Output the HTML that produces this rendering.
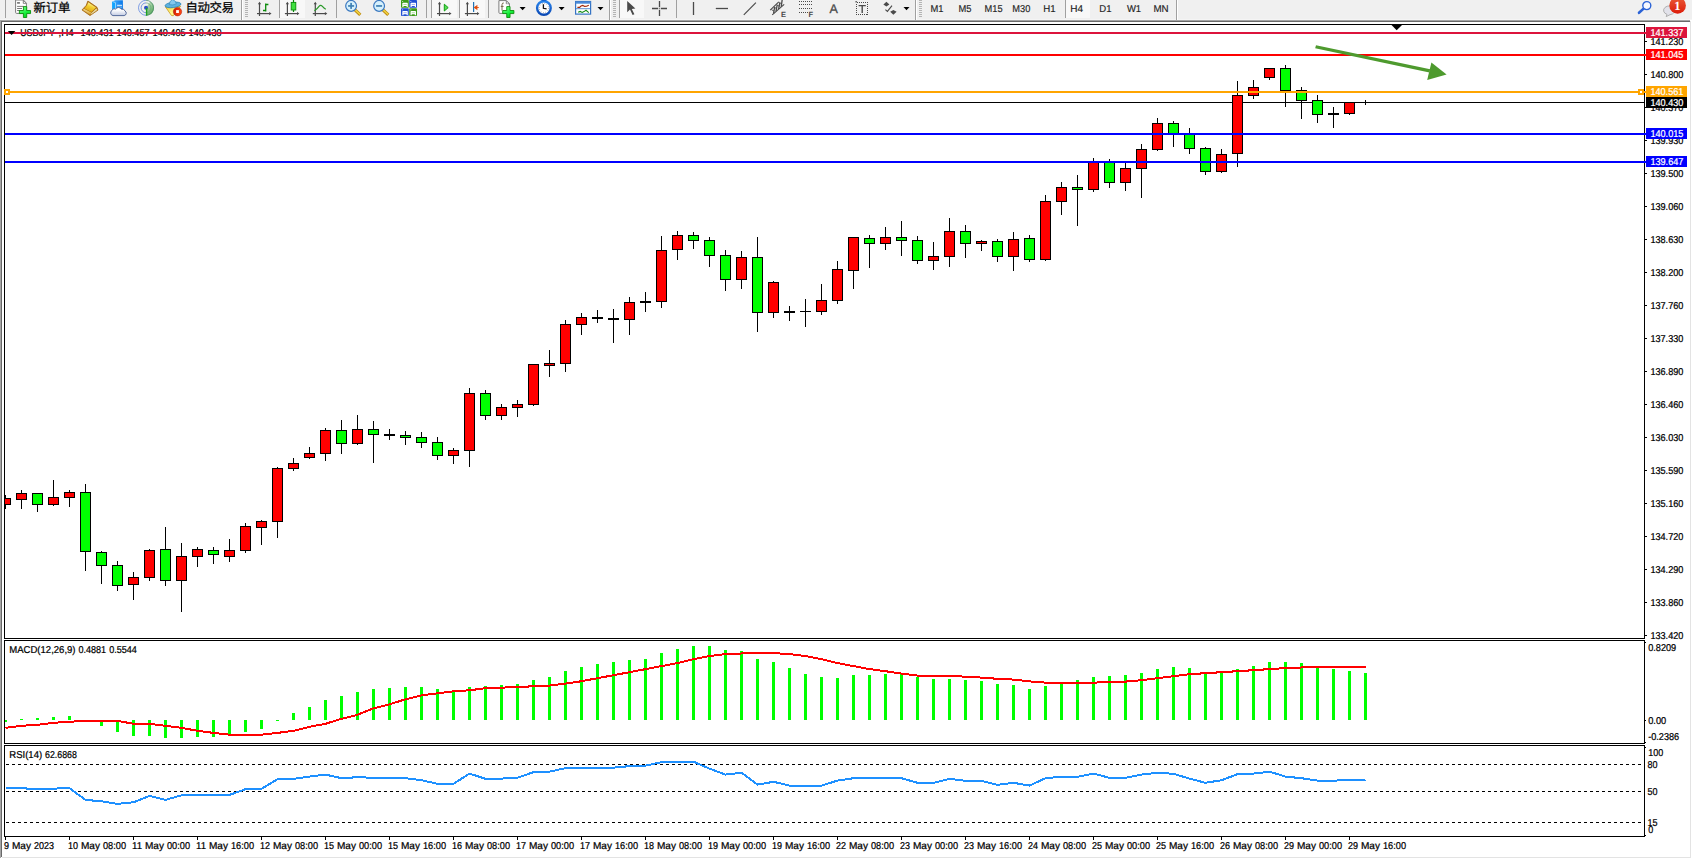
<!DOCTYPE html>
<html lang="zh"><head><meta charset="utf-8"><title>USDJPY,H4</title>
<style>html,body{margin:0;padding:0;background:#fff;}body{width:1692px;height:859px;overflow:hidden;position:relative;}text{white-space:pre;}</style></head>
<body>
<svg width="1692" height="859" viewBox="0 0 1692 859" font-family='"Liberation Sans", "Noto Sans CJK SC", sans-serif' shape-rendering="crispEdges" text-rendering="geometricPrecision" style="position:absolute;left:0;top:0">
<rect x="0" y="0" width="1692" height="859" fill="#fff"/>
<rect x="0" y="0" width="1692" height="19" fill="#f0f0f0"/>
<rect x="0" y="19" width="1692" height="1" fill="#f5f5f5"/>
<rect x="0" y="20" width="1690" height="1" fill="#a5a5a5"/>
<rect x="0" y="21" width="1690" height="1" fill="#696969"/>
<rect x="0" y="20" width="1" height="838" fill="#a5a5a5"/>
<rect x="1" y="21" width="1" height="836" fill="#696969"/>
<rect x="1690" y="21" width="1" height="837" fill="#e3e3e3"/>
<rect x="2" y="857" width="1689" height="1" fill="#e3e3e3"/>
<g id="toolbar" shape-rendering="geometricPrecision"><rect x="5" y="0" width="1" height="18" fill="#a0a0a0" shape-rendering="crispEdges"/><path d="M15.6,0 H23.4 L26.4,3.2 V13.4 H16.6 Q15.6,13.4 15.6,12.4 Z" fill="#fff" stroke="#7c7c7c" stroke-width="1"/><path d="M23.2,0.2 V3.4 H26.4 Z" fill="#9a9a9a" stroke="#7c7c7c" stroke-width="0.7"/><circle cx="24.5" cy="2.5" r="0.6" fill="#fff"/><rect x="17.1" y="2.1" width="2.8" height="1.6" fill="#6e6e6e"/><path d="M17.1,6.4 H24 M17.1,8.5 H22 M17.1,10.5 H20" stroke="#7a7a7a" stroke-width="1"/><path d="M23.41,6.6000000000000005 h3.3 v3.9 h3.85 v3.07 h-3.85 v3.93 h-3.3 v-3.93 h-4.05 v-3.07 h4.05 z" fill="url(#plusg)" stroke="#058a05" stroke-width="0.85" stroke-linejoin="round"/><text x="33.4" y="11.5" font-size="12.4" fill="#000" stroke="#000" stroke-width="0.25" textLength="37" lengthAdjust="spacing">新订单</text><defs><linearGradient id="gold" x1="0.75" y1="0.1" x2="0.35" y2="0.95"><stop offset="0" stop-color="#fffbb0"/><stop offset="0.45" stop-color="#f2d030"/><stop offset="1" stop-color="#e0a616"/></linearGradient><linearGradient id="cream" x1="0.6" y1="0" x2="0.4" y2="1"><stop offset="0" stop-color="#f8e6a6"/><stop offset="1" stop-color="#d29a1e"/></linearGradient><linearGradient id="sky" x1="0" y1="0" x2="1" y2="0"><stop offset="0" stop-color="#46b0ff"/><stop offset="1" stop-color="#0a78e8"/></linearGradient><linearGradient id="face" x1="0" y1="0" x2="0.5" y2="1"><stop offset="0" stop-color="#f2cc34"/><stop offset="0.7" stop-color="#fff88e"/></linearGradient><linearGradient id="stop" x1="0" y1="0" x2="1" y2="0.3"><stop offset="0" stop-color="#c81a02"/><stop offset="1" stop-color="#ff4412"/></linearGradient><linearGradient id="clk" x1="0" y1="0" x2="0" y2="1"><stop offset="0" stop-color="#2a86ee"/><stop offset="1" stop-color="#0a48b4"/></linearGradient><linearGradient id="plusg" x1="0.2" y1="0" x2="0.7" y2="1"><stop offset="0" stop-color="#7dff8e"/><stop offset="0.6" stop-color="#14f03a"/><stop offset="1" stop-color="#08c820"/></linearGradient><linearGradient id="cloud" x1="0" y1="0" x2="0" y2="1"><stop offset="0.3" stop-color="#ffffff"/><stop offset="1" stop-color="#c2cbe2"/></linearGradient><linearGradient id="sig" x1="0" y1="0" x2="0.6" y2="1"><stop offset="0" stop-color="#d4e8d4"/><stop offset="1" stop-color="#58aa58"/></linearGradient><linearGradient id="redb" x1="0" y1="0" x2="0" y2="1"><stop offset="0" stop-color="#ea5a36"/><stop offset="1" stop-color="#dc1c0a"/></linearGradient></defs><path d="M87.9,1.0 L97.0,7.3 L98.0,10.1 L90.0,15.6 L82.0,9.9 L86.2,5.4 Z" fill="#a86a10" stroke="#a86a10" stroke-width="0.8" stroke-linejoin="round"/><path d="M91.4,12.9 L96.4,8.3 L97.3,10.0 L90.6,14.7 Z" fill="#e8dca2"/><path d="M82.9,9.9 L83.9,8.7 L91.4,12.5 L90.1,14.7 Z" fill="url(#cream)"/><path d="M88.3,2.2 L96.0,7.6 L91.4,12.0 L84.3,8.4 L86.9,5.6 Z" fill="url(#gold)"/><path d="M112.2,1.4 L115.4,0.2 H122.9 V9.6 H112.2 Z" fill="url(#sky)"/><path d="M112.2,1.4 L115.5,2.6 V9.6 H112.2 Z" fill="#12a4ff"/><path d="M112.4,1.5 L115.5,2.7 V9.4" fill="none" stroke="#d6f0ff" stroke-width="0.6"/><rect x="117.1" y="4.8" width="4.9" height="1" fill="#e8f6ff"/><rect x="117.1" y="6.7" width="4.9" height="0.8" fill="#8fd0ff"/><path d="M113.0,15.6 a2.9,2.9 0 0 1 -0.6,-5.5 a2.2,2.2 0 0 1 3.2,-1.0 a3.4,3.4 0 0 1 5.9,0.2 a2.6,2.6 0 0 1 3.4,1.6 a2.5,2.5 0 0 1 -0.8,4.7 Z" fill="url(#cloud)" stroke="#455c92" stroke-width="0.9"/><path d="M146,7.8 L150.2,1.4 A7.6,7.6 0 0 1 146.6,15.6 Z" fill="url(#sig)"/><g fill="none" stroke-width="1"><path d="M146,0.3 a7.5,7.5 0 0 0 0,15" stroke="#6a8ee0" opacity="0.85"/><path d="M146,2.9 a4.9,4.9 0 0 0 0,9.8" stroke="#5a7ed8" opacity="0.8"/><path d="M146,0.3 a7.5,7.5 0 0 1 0,15" stroke="#4a8a6a" opacity="0.75"/><path d="M146,2.9 a4.9,4.9 0 0 1 0,9.8" stroke="#6aaa7a" opacity="0.7"/></g><circle cx="146" cy="7.8" r="2" fill="#2a52c8"/><rect x="145.9" y="7.9" width="1.4" height="7.8" fill="#1fa01f"/><path d="M165.4,6.8 L180.6,6.2 L173.2,15.8 L171.4,15.4 Z" fill="url(#face)" stroke="#c8981a" stroke-width="0.8" stroke-linejoin="round"/><ellipse cx="173" cy="4.9" rx="8" ry="2.7" transform="rotate(-7 173 4.9)" fill="#5eb2e0" stroke="#2f86b6" stroke-width="0.8"/><path d="M169.3,4.6 Q169.3,0.8 172.6,-0.5 Q176,0.6 176.3,3.9 Q173,5.6 169.3,4.6 Z" fill="#84c8ee" stroke="#2f86b6" stroke-width="0.6"/><circle cx="177.5" cy="11.7" r="4.2" fill="url(#stop)" stroke="#b01a04" stroke-width="0.5"/><rect x="176.1" y="10.1" width="2.8" height="2.9" fill="#fff"/><text x="185.6" y="11.5" font-size="12.4" fill="#000" stroke="#000" stroke-width="0.25" textLength="48.2" lengthAdjust="spacing">自动交易</text><rect x="241" y="0" width="1" height="20" fill="#a0a0a0" shape-rendering="crispEdges"/><rect x="242" y="0" width="1" height="20" fill="#fff" shape-rendering="crispEdges"/><rect x="245" y="0" width="3" height="1" fill="#b4b4b4" shape-rendering="crispEdges"/><rect x="245" y="2" width="3" height="1" fill="#b4b4b4" shape-rendering="crispEdges"/><rect x="245" y="4" width="3" height="1" fill="#b4b4b4" shape-rendering="crispEdges"/><rect x="245" y="6" width="3" height="1" fill="#b4b4b4" shape-rendering="crispEdges"/><rect x="245" y="8" width="3" height="1" fill="#b4b4b4" shape-rendering="crispEdges"/><rect x="245" y="10" width="3" height="1" fill="#b4b4b4" shape-rendering="crispEdges"/><rect x="245" y="12" width="3" height="1" fill="#b4b4b4" shape-rendering="crispEdges"/><rect x="245" y="14" width="3" height="1" fill="#b4b4b4" shape-rendering="crispEdges"/><rect x="245" y="16" width="3" height="1" fill="#b4b4b4" shape-rendering="crispEdges"/><g stroke="#4a4a4a" stroke-width="1.2" fill="#4a4a4a"><line x1="259.5" y1="3" x2="259.5" y2="16"/><line x1="257.0" y1="13.6" x2="269.5" y2="13.6"/><polygon points="257.9,4.2 261.1,4.2 259.5,1.8" stroke="none"/><polygon points="269.1,12 269.1,15.2 271.5,13.6" stroke="none"/></g><path d="M265.7,3.6 V11.6 M265.7,4.5 H268.4 M263,10.5 H265.7" stroke="#0a8a0a" stroke-width="1.3" fill="none"/><rect x="279" y="0" width="1" height="18" fill="#a0a0a0" shape-rendering="crispEdges"/><rect x="280" y="0" width="25" height="18" fill="#f8f8f8" shape-rendering="crispEdges"/><g stroke="#4a4a4a" stroke-width="1.2" fill="#4a4a4a"><line x1="287.4" y1="3" x2="287.4" y2="16"/><line x1="284.9" y1="13.6" x2="297.4" y2="13.6"/><polygon points="285.79999999999995,4.2 289.0,4.2 287.4,1.8" stroke="none"/><polygon points="297.0,12 297.0,15.2 299.4,13.6" stroke="none"/></g><rect x="292.9" y="0" width="1.2" height="12" fill="#0a8a0a"/><rect x="291.2" y="2.4" width="4.6" height="7.6" fill="#3fe23f" stroke="#0a8a0a" stroke-width="0.9"/><g stroke="#4a4a4a" stroke-width="1.2" fill="#4a4a4a"><line x1="315.3" y1="3" x2="315.3" y2="16"/><line x1="312.8" y1="13.6" x2="325.3" y2="13.6"/><polygon points="313.7,4.2 316.90000000000003,4.2 315.3,1.8" stroke="none"/><polygon points="324.90000000000003,12 324.90000000000003,15.2 327.3,13.6" stroke="none"/></g><path d="M314.4,10.8 Q317.5,8.5 319,6.3 Q320.6,4.6 322.2,6.2 Q324,8.4 325.8,9.2" stroke="#2a9a2a" stroke-width="1.2" fill="none"/><rect x="336" y="0" width="1" height="18" fill="#a0a0a0" shape-rendering="crispEdges"/><line x1="354.70000000000005" y1="9.6" x2="360.3" y2="14.8" stroke="#b8860b" stroke-width="3.2"/><line x1="355.1" y1="9.8" x2="360.1" y2="14.4" stroke="#f0d040" stroke-width="1.6"/><circle cx="351.1" cy="5.9" r="5.4" fill="#d6f0fc" stroke="#3a78c0" stroke-width="1.2"/><rect x="348.1" y="5.1" width="6" height="1.7" fill="#3f80b4"/><rect x="350.25" y="2.9" width="1.7" height="6" fill="#3f80b4"/><line x1="382.70000000000005" y1="9.6" x2="388.3" y2="14.8" stroke="#b8860b" stroke-width="3.2"/><line x1="383.1" y1="9.8" x2="388.1" y2="14.4" stroke="#f0d040" stroke-width="1.6"/><circle cx="379.1" cy="5.9" r="5.4" fill="#d6f0fc" stroke="#3a78c0" stroke-width="1.2"/><rect x="376.1" y="5.1" width="6" height="1.7" fill="#3f80b4"/><rect x="401" y="0" width="7.8" height="7.8" rx="0.8" fill="#3c9c18"/><path d="M402.3,6.9 V3.5 Q402.3,2.8 403,2.8 H407.1 Q407.8,2.8 407.8,3.5 V6.9 H406.6 V6 H403.5 V6.9 Z" fill="#fff"/><rect x="403.4" y="4.0" width="3.3" height="0.9" fill="#a4dc92"/><rect x="402.2" y="1.1" width="0.9" height="0.9" fill="#fff" opacity="0.85"/><rect x="409.2" y="0" width="7.8" height="7.8" rx="0.8" fill="#2250d4"/><path d="M410.5,6.9 V3.5 Q410.5,2.8 411.2,2.8 H415.3 Q416.0,2.8 416.0,3.5 V6.9 H414.8 V6 H411.7 V6.9 Z" fill="#fff"/><rect x="411.59999999999997" y="4.0" width="3.3" height="0.9" fill="#93abf2"/><rect x="410.4" y="1.1" width="0.9" height="0.9" fill="#fff" opacity="0.85"/><rect x="401" y="8.3" width="7.8" height="7.8" rx="0.8" fill="#2250d4"/><path d="M402.3,15.200000000000001 V11.8 Q402.3,11.100000000000001 403,11.100000000000001 H407.1 Q407.8,11.100000000000001 407.8,11.8 V15.200000000000001 H406.6 V14.3 H403.5 V15.200000000000001 Z" fill="#fff"/><rect x="403.4" y="12.3" width="3.3" height="0.9" fill="#93abf2"/><rect x="402.2" y="9.4" width="0.9" height="0.9" fill="#fff" opacity="0.85"/><rect x="409.2" y="8.3" width="7.8" height="7.8" rx="0.8" fill="#3c9c18"/><path d="M410.5,15.200000000000001 V11.8 Q410.5,11.100000000000001 411.2,11.100000000000001 H415.3 Q416.0,11.100000000000001 416.0,11.8 V15.200000000000001 H414.8 V14.3 H411.7 V15.200000000000001 Z" fill="#fff"/><rect x="411.59999999999997" y="12.3" width="3.3" height="0.9" fill="#a4dc92"/><rect x="410.4" y="9.4" width="0.9" height="0.9" fill="#fff" opacity="0.85"/><rect x="426" y="0" width="1" height="18" fill="#a0a0a0" shape-rendering="crispEdges"/><rect x="431" y="0" width="1" height="18" fill="#a0a0a0" shape-rendering="crispEdges"/><rect x="432" y="0" width="25" height="18" fill="#f8f8f8" shape-rendering="crispEdges"/><g stroke="#4a4a4a" stroke-width="1.2" fill="#4a4a4a"><line x1="439.5" y1="3" x2="439.5" y2="16"/><line x1="437.0" y1="13.6" x2="449.5" y2="13.6"/><polygon points="437.9,4.2 441.1,4.2 439.5,1.8" stroke="none"/><polygon points="449.1,12 449.1,15.2 451.5,13.6" stroke="none"/></g><polygon points="444.3,4.2 448.2,7.6 444.3,11" fill="#58e058" stroke="#12a012" stroke-width="1"/><rect x="459" y="0" width="1" height="18" fill="#a0a0a0" shape-rendering="crispEdges"/><rect x="460" y="0" width="25" height="18" fill="#f8f8f8" shape-rendering="crispEdges"/><g stroke="#4a4a4a" stroke-width="1.2" fill="#4a4a4a"><line x1="467.4" y1="3" x2="467.4" y2="16"/><line x1="464.9" y1="13.6" x2="477.4" y2="13.6"/><polygon points="465.79999999999995,4.2 469.0,4.2 467.4,1.8" stroke="none"/><polygon points="477.0,12 477.0,15.2 479.4,13.6" stroke="none"/></g><rect x="473" y="2" width="1.2" height="10" fill="#2272b4"/><path d="M474.2,7.5 L477.2,5.6 L476.6,7.5 L477.2,9.4 Z M476.2,7.5 H478.8" fill="#e04808" stroke="#e04808" stroke-width="0.9"/><rect x="488" y="0" width="1" height="18" fill="#a0a0a0" shape-rendering="crispEdges"/><path d="M498.9,0.6 H506.3 L509.4,3.7 V13.4 H499.9 Q498.9,13.4 498.9,12.4 Z" fill="#fff" stroke="#7c7c7c" stroke-width="1"/><path d="M506.2,0.8 V3.8 H509.3 Z" fill="#9a9a9a" stroke="#7c7c7c" stroke-width="0.6"/><circle cx="507.4" cy="2.9" r="0.55" fill="#fff"/><path d="M503.8,3 q-1.6,-0.4 -1.8,1.6 v6 M500.8,6.4 h2.8" stroke="#6a5a3a" stroke-width="0.9" fill="none"/><path d="M506.75,6.6000000000000005 h3.3 v3.9 h3.85 v3.07 h-3.85 v3.93 h-3.3 v-3.93 h-4.05 v-3.07 h4.05 z" fill="url(#plusg)" stroke="#058a05" stroke-width="0.85" stroke-linejoin="round"/><polygon points="519.6,7 525.6,7 522.6,10.3" fill="#000"/><circle cx="543.9" cy="8" r="6.8" fill="#fff" stroke="url(#clk)" stroke-width="2.4"/><circle cx="543.9" cy="8" r="4.6" fill="none" stroke="#8a8a8a" stroke-width="1" stroke-dasharray="0.7,1.71"/><path d="M543.4,4.2 V8.3 L546.6,8.9" stroke="#111" stroke-width="1.3" fill="none"/><rect x="541.4" y="0" width="5" height="0.9" fill="#1464d2"/><polygon points="558.6,7 564.6,7 561.6,10.3" fill="#000"/><rect x="575.6" y="1.5" width="15" height="12.6" fill="#fff" stroke="#3674c4" stroke-width="1.2"/><rect x="575.6" y="1.5" width="15" height="2.2" fill="#4a8ad8"/><line x1="575.6" y1="8.7" x2="590.6" y2="8.7" stroke="#3674c4" stroke-width="0.8"/><path d="M577.4,7.4 L579.6,7.4 L581,6 L582.8,5.4 L584.6,6.4 L586.6,6.2 L588.8,5.2" stroke="#a02808" stroke-width="1.1" fill="none"/><path d="M578.2,12.3 L580.2,11.4 L582.2,12.4 L584,11.6 L586,10.3 L587.6,11.6 L588.8,12.6" stroke="#128a12" stroke-width="1.1" fill="none"/><polygon points="597.5,7 603.5,7 600.5,10.3" fill="#000"/><rect x="609" y="0" width="1" height="20" fill="#a0a0a0" shape-rendering="crispEdges"/><rect x="610" y="0" width="1" height="20" fill="#fff" shape-rendering="crispEdges"/><rect x="613" y="0" width="3" height="1" fill="#b4b4b4" shape-rendering="crispEdges"/><rect x="613" y="2" width="3" height="1" fill="#b4b4b4" shape-rendering="crispEdges"/><rect x="613" y="4" width="3" height="1" fill="#b4b4b4" shape-rendering="crispEdges"/><rect x="613" y="6" width="3" height="1" fill="#b4b4b4" shape-rendering="crispEdges"/><rect x="613" y="8" width="3" height="1" fill="#b4b4b4" shape-rendering="crispEdges"/><rect x="613" y="10" width="3" height="1" fill="#b4b4b4" shape-rendering="crispEdges"/><rect x="613" y="12" width="3" height="1" fill="#b4b4b4" shape-rendering="crispEdges"/><rect x="613" y="14" width="3" height="1" fill="#b4b4b4" shape-rendering="crispEdges"/><rect x="613" y="16" width="3" height="1" fill="#b4b4b4" shape-rendering="crispEdges"/><rect x="619" y="0" width="1" height="18" fill="#a0a0a0" shape-rendering="crispEdges"/><rect x="620" y="0" width="24" height="18" fill="#f8f8f8" shape-rendering="crispEdges"/><path d="M627.2,1 V12.2 L630,9.6 L632.6,15 L634.4,14.2 L631.8,8.9 L635.4,8.6 Z" fill="#4a4a4a"/><path d="M652,8.5 H658.2 M660.8,8.5 H667 M659.5,1 V7.2 M659.5,9.8 V16" stroke="#4a4a4a" stroke-width="1.3"/><rect x="659.1" y="8.1" width="0.8" height="0.8" fill="#4a4a4a"/><rect x="676" y="0" width="1" height="18" fill="#a0a0a0" shape-rendering="crispEdges"/><line x1="693.5" y1="2" x2="693.5" y2="15" stroke="#4a4a4a" stroke-width="1.3"/><line x1="715.8" y1="8.5" x2="728" y2="8.5" stroke="#4a4a4a" stroke-width="1.3"/><line x1="743.8" y1="14.8" x2="755.9" y2="2.6" stroke="#4a4a4a" stroke-width="1.2"/><g stroke="#4a4a4a" stroke-width="1.1" fill="none"><path d="M770.2,10.2 L778.8,1.8 M772.2,14.8 L784.2,4.4"/><path d="M773.6,13.4 L774.6,7.2 M776,11.2 L777.2,5 M778.6,9 L779.8,2.8 M781.2,6.8 L782.2,-0.4" stroke-width="1.3"/><path d="M771.4,9.6 L774.2,11.2 M774,7 L776.8,8.8 M776.6,4.6 L779.4,6.4 M779.2,2.2 L782,4.2" stroke-width="0.9"/></g><text x="781" y="17.3" font-size="7.5" font-weight="bold" fill="#4a4a4a">E</text><g stroke="#4a4a4a" stroke-width="1" stroke-dasharray="1,1" fill="none"><path d="M799,1.5 H812.4 M799,4.5 H812.4 M799,8.5 H812.4 M799,12.5 H808"/></g><text x="808.6" y="17.3" font-size="7.5" font-weight="bold" fill="#4a4a4a">F</text><text x="829.4" y="13" font-size="12.5" fill="#4a4a4a" stroke="#4a4a4a" stroke-width="0.3">A</text><rect x="856.5" y="2.5" width="11" height="12" fill="none" stroke="#4a4a4a" stroke-width="1" stroke-dasharray="1,1" shape-rendering="crispEdges"/><path d="M858.6,5.6 H865.8 M862.2,5.6 V13" stroke="#4a4a4a" stroke-width="1.4" fill="none"/><rect x="855.4" y="1.2" width="1.6" height="1.2" fill="#4a4a4a"/><polygon points="886.4,1.8 889.4,4.6 886.4,6.4 883.4,4.6" fill="#4a4a4a"/><polygon points="893.4,10 896.6,11.8 893.4,14.8 890.2,11.8" fill="#4a4a4a"/><path d="M885.4,9.6 L887.4,11.4 L892,5.6" stroke="#4a4a4a" stroke-width="1.1" fill="none"/><polygon points="903.5,7 909.5,7 906.5,10.3" fill="#000"/><rect x="915" y="0" width="1" height="20" fill="#a0a0a0" shape-rendering="crispEdges"/><rect x="916" y="0" width="1" height="20" fill="#fff" shape-rendering="crispEdges"/><rect x="919" y="0" width="3" height="1" fill="#b4b4b4" shape-rendering="crispEdges"/><rect x="919" y="2" width="3" height="1" fill="#b4b4b4" shape-rendering="crispEdges"/><rect x="919" y="4" width="3" height="1" fill="#b4b4b4" shape-rendering="crispEdges"/><rect x="919" y="6" width="3" height="1" fill="#b4b4b4" shape-rendering="crispEdges"/><rect x="919" y="8" width="3" height="1" fill="#b4b4b4" shape-rendering="crispEdges"/><rect x="919" y="10" width="3" height="1" fill="#b4b4b4" shape-rendering="crispEdges"/><rect x="919" y="12" width="3" height="1" fill="#b4b4b4" shape-rendering="crispEdges"/><rect x="919" y="14" width="3" height="1" fill="#b4b4b4" shape-rendering="crispEdges"/><rect x="919" y="16" width="3" height="1" fill="#b4b4b4" shape-rendering="crispEdges"/><rect x="1066" y="0" width="24" height="18" fill="#f8f8f8" shape-rendering="crispEdges"/><text x="930.4" y="12" font-size="10" fill="#222" stroke="#222" stroke-width="0.15" textLength="13" lengthAdjust="spacingAndGlyphs">M1</text><text x="958.4" y="12" font-size="10" fill="#222" stroke="#222" stroke-width="0.15" textLength="13" lengthAdjust="spacingAndGlyphs">M5</text><text x="984.6" y="12" font-size="10" fill="#222" stroke="#222" stroke-width="0.15" textLength="18" lengthAdjust="spacingAndGlyphs">M15</text><text x="1012.3" y="12" font-size="10" fill="#222" stroke="#222" stroke-width="0.15" textLength="18" lengthAdjust="spacingAndGlyphs">M30</text><text x="1043.2" y="12" font-size="10" fill="#222" stroke="#222" stroke-width="0.15" textLength="12.4" lengthAdjust="spacingAndGlyphs">H1</text><text x="1070.2" y="12" font-size="10" fill="#222" stroke="#222" stroke-width="0.15" textLength="12.8" lengthAdjust="spacingAndGlyphs">H4</text><text x="1099.3" y="12" font-size="10" fill="#222" stroke="#222" stroke-width="0.15" textLength="12.2" lengthAdjust="spacingAndGlyphs">D1</text><text x="1126.9" y="12" font-size="10" fill="#222" stroke="#222" stroke-width="0.15" textLength="14.2" lengthAdjust="spacingAndGlyphs">W1</text><text x="1153.4" y="12" font-size="10" fill="#222" stroke="#222" stroke-width="0.15" textLength="15.2" lengthAdjust="spacingAndGlyphs">MN</text><rect x="1065" y="0" width="1" height="18" fill="#a0a0a0" shape-rendering="crispEdges"/><rect x="1176" y="0" width="1" height="20" fill="#a0a0a0" shape-rendering="crispEdges"/><rect x="1177" y="0" width="1" height="20" fill="#fff" shape-rendering="crispEdges"/><line x1="1643.6" y1="8.6" x2="1639" y2="12.8" stroke="#2a62d6" stroke-width="2.6" stroke-linecap="round"/><circle cx="1646.8" cy="5.6" r="4" fill="#f6f8ff" stroke="#2a62d6" stroke-width="1.4"/><path d="M1666.2,16.6 L1667,14.4 a5.6,4.4 0 1 1 3,0.3 Z" fill="#e2e2ea" stroke="#a8a8a8" stroke-width="0.9"/><circle cx="1677.6" cy="5.4" r="8.3" fill="url(#redb)"/><text x="1674.2" y="10" font-size="12.5" font-family='"Liberation Serif", serif' font-weight="bold" fill="#fff">1</text></g>
<rect x="4" y="24" width="1641" height="1" fill="#000"/>
<rect x="4" y="24" width="1" height="813" fill="#000"/>
<rect x="1644" y="24" width="1" height="813" fill="#000"/>
<rect x="4" y="638" width="1641" height="1" fill="#000"/>
<rect x="4" y="639" width="1641" height="1" fill="#fff"/>
<rect x="4" y="640" width="1641" height="1" fill="#000"/>
<rect x="4" y="743" width="1641" height="1" fill="#000"/>
<rect x="4" y="744" width="1641" height="1" fill="#fff"/>
<rect x="4" y="745" width="1641" height="1" fill="#000"/>
<rect x="4" y="836" width="1641" height="1" fill="#000"/>
<rect x="5" y="102" width="1639" height="1" fill="#000"/>
<g id="candles">
<rect x="5" y="495" width="1" height="14" fill="#000"/>
<rect x="5" y="498" width="6" height="7" fill="#000"/>
<rect x="5" y="499" width="5" height="5" fill="#ff0000"/>
<rect x="21" y="490" width="1" height="19" fill="#000"/>
<rect x="16" y="493" width="11" height="7" fill="#000"/>
<rect x="17" y="494" width="9" height="5" fill="#ff0000"/>
<rect x="37" y="493" width="1" height="19" fill="#000"/>
<rect x="32" y="493" width="11" height="12" fill="#000"/>
<rect x="33" y="494" width="9" height="10" fill="#00ff00"/>
<rect x="53" y="480" width="1" height="26" fill="#000"/>
<rect x="48" y="497" width="11" height="8" fill="#000"/>
<rect x="49" y="498" width="9" height="6" fill="#ff0000"/>
<rect x="69" y="490" width="1" height="17" fill="#000"/>
<rect x="64" y="492" width="11" height="6" fill="#000"/>
<rect x="65" y="493" width="9" height="4" fill="#ff0000"/>
<rect x="85" y="484" width="1" height="87" fill="#000"/>
<rect x="80" y="492" width="11" height="60" fill="#000"/>
<rect x="81" y="493" width="9" height="58" fill="#00ff00"/>
<rect x="101" y="551" width="1" height="33" fill="#000"/>
<rect x="96" y="552" width="11" height="14" fill="#000"/>
<rect x="97" y="553" width="9" height="12" fill="#00ff00"/>
<rect x="117" y="561" width="1" height="30" fill="#000"/>
<rect x="112" y="565" width="11" height="21" fill="#000"/>
<rect x="113" y="566" width="9" height="19" fill="#00ff00"/>
<rect x="133" y="572" width="1" height="28" fill="#000"/>
<rect x="128" y="577" width="11" height="8" fill="#000"/>
<rect x="129" y="578" width="9" height="6" fill="#ff0000"/>
<rect x="149" y="549" width="1" height="32" fill="#000"/>
<rect x="144" y="550" width="11" height="28" fill="#000"/>
<rect x="145" y="551" width="9" height="26" fill="#ff0000"/>
<rect x="165" y="527" width="1" height="59" fill="#000"/>
<rect x="160" y="549" width="11" height="32" fill="#000"/>
<rect x="161" y="550" width="9" height="30" fill="#00ff00"/>
<rect x="181" y="543" width="1" height="69" fill="#000"/>
<rect x="176" y="556" width="11" height="25" fill="#000"/>
<rect x="177" y="557" width="9" height="23" fill="#ff0000"/>
<rect x="197" y="547" width="1" height="20" fill="#000"/>
<rect x="192" y="549" width="11" height="8" fill="#000"/>
<rect x="193" y="550" width="9" height="6" fill="#ff0000"/>
<rect x="213" y="547" width="1" height="17" fill="#000"/>
<rect x="208" y="550" width="11" height="5" fill="#000"/>
<rect x="209" y="551" width="9" height="3" fill="#00ff00"/>
<rect x="229" y="539" width="1" height="23" fill="#000"/>
<rect x="224" y="550" width="11" height="7" fill="#000"/>
<rect x="225" y="551" width="9" height="5" fill="#ff0000"/>
<rect x="245" y="523" width="1" height="30" fill="#000"/>
<rect x="240" y="526" width="11" height="25" fill="#000"/>
<rect x="241" y="527" width="9" height="23" fill="#ff0000"/>
<rect x="261" y="520" width="1" height="25" fill="#000"/>
<rect x="256" y="521" width="11" height="7" fill="#000"/>
<rect x="257" y="522" width="9" height="5" fill="#ff0000"/>
<rect x="277" y="467" width="1" height="71" fill="#000"/>
<rect x="272" y="468" width="11" height="54" fill="#000"/>
<rect x="273" y="469" width="9" height="52" fill="#ff0000"/>
<rect x="293" y="458" width="1" height="13" fill="#000"/>
<rect x="288" y="463" width="11" height="6" fill="#000"/>
<rect x="289" y="464" width="9" height="4" fill="#ff0000"/>
<rect x="309" y="447" width="1" height="12" fill="#000"/>
<rect x="304" y="453" width="11" height="5" fill="#000"/>
<rect x="305" y="454" width="9" height="3" fill="#ff0000"/>
<rect x="325" y="428" width="1" height="33" fill="#000"/>
<rect x="320" y="430" width="11" height="24" fill="#000"/>
<rect x="321" y="431" width="9" height="22" fill="#ff0000"/>
<rect x="341" y="420" width="1" height="34" fill="#000"/>
<rect x="336" y="430" width="11" height="14" fill="#000"/>
<rect x="337" y="431" width="9" height="12" fill="#00ff00"/>
<rect x="357" y="415" width="1" height="30" fill="#000"/>
<rect x="352" y="429" width="11" height="15" fill="#000"/>
<rect x="353" y="430" width="9" height="13" fill="#ff0000"/>
<rect x="373" y="421" width="1" height="42" fill="#000"/>
<rect x="368" y="429" width="11" height="6" fill="#000"/>
<rect x="369" y="430" width="9" height="4" fill="#00ff00"/>
<rect x="389" y="429" width="1" height="11" fill="#000"/>
<rect x="384" y="434" width="11" height="2" fill="#000"/>
<rect x="405" y="431" width="1" height="14" fill="#000"/>
<rect x="400" y="435" width="11" height="3" fill="#000"/>
<rect x="401" y="436" width="9" height="1" fill="#00ff00"/>
<rect x="421" y="432" width="1" height="16" fill="#000"/>
<rect x="416" y="437" width="11" height="6" fill="#000"/>
<rect x="417" y="438" width="9" height="4" fill="#00ff00"/>
<rect x="437" y="437" width="1" height="23" fill="#000"/>
<rect x="432" y="442" width="11" height="14" fill="#000"/>
<rect x="433" y="443" width="9" height="12" fill="#00ff00"/>
<rect x="453" y="448" width="1" height="16" fill="#000"/>
<rect x="448" y="450" width="11" height="6" fill="#000"/>
<rect x="449" y="451" width="9" height="4" fill="#ff0000"/>
<rect x="469" y="388" width="1" height="79" fill="#000"/>
<rect x="464" y="393" width="11" height="58" fill="#000"/>
<rect x="465" y="394" width="9" height="56" fill="#ff0000"/>
<rect x="485" y="390" width="1" height="30" fill="#000"/>
<rect x="480" y="393" width="11" height="23" fill="#000"/>
<rect x="481" y="394" width="9" height="21" fill="#00ff00"/>
<rect x="501" y="404" width="1" height="16" fill="#000"/>
<rect x="496" y="407" width="11" height="9" fill="#000"/>
<rect x="497" y="408" width="9" height="7" fill="#ff0000"/>
<rect x="517" y="400" width="1" height="17" fill="#000"/>
<rect x="512" y="404" width="11" height="4" fill="#000"/>
<rect x="513" y="405" width="9" height="2" fill="#ff0000"/>
<rect x="533" y="364" width="1" height="42" fill="#000"/>
<rect x="528" y="364" width="11" height="41" fill="#000"/>
<rect x="529" y="365" width="9" height="39" fill="#ff0000"/>
<rect x="549" y="350" width="1" height="27" fill="#000"/>
<rect x="544" y="363" width="11" height="3" fill="#000"/>
<rect x="545" y="364" width="9" height="1" fill="#ff0000"/>
<rect x="565" y="320" width="1" height="52" fill="#000"/>
<rect x="560" y="324" width="11" height="40" fill="#000"/>
<rect x="561" y="325" width="9" height="38" fill="#ff0000"/>
<rect x="581" y="313" width="1" height="22" fill="#000"/>
<rect x="576" y="317" width="11" height="8" fill="#000"/>
<rect x="577" y="318" width="9" height="6" fill="#ff0000"/>
<rect x="597" y="310" width="1" height="13" fill="#000"/>
<rect x="592" y="317" width="11" height="2" fill="#000"/>
<rect x="613" y="309" width="1" height="34" fill="#000"/>
<rect x="608" y="318" width="11" height="2" fill="#000"/>
<rect x="629" y="297" width="1" height="38" fill="#000"/>
<rect x="624" y="302" width="11" height="18" fill="#000"/>
<rect x="625" y="303" width="9" height="16" fill="#ff0000"/>
<rect x="645" y="292" width="1" height="20" fill="#000"/>
<rect x="640" y="301" width="11" height="2" fill="#000"/>
<rect x="661" y="236" width="1" height="72" fill="#000"/>
<rect x="656" y="250" width="11" height="52" fill="#000"/>
<rect x="657" y="251" width="9" height="50" fill="#ff0000"/>
<rect x="677" y="231" width="1" height="29" fill="#000"/>
<rect x="672" y="235" width="11" height="15" fill="#000"/>
<rect x="673" y="236" width="9" height="13" fill="#ff0000"/>
<rect x="693" y="232" width="1" height="17" fill="#000"/>
<rect x="688" y="235" width="11" height="6" fill="#000"/>
<rect x="689" y="236" width="9" height="4" fill="#00ff00"/>
<rect x="709" y="237" width="1" height="30" fill="#000"/>
<rect x="704" y="240" width="11" height="16" fill="#000"/>
<rect x="705" y="241" width="9" height="14" fill="#00ff00"/>
<rect x="725" y="250" width="1" height="41" fill="#000"/>
<rect x="720" y="255" width="11" height="25" fill="#000"/>
<rect x="721" y="256" width="9" height="23" fill="#00ff00"/>
<rect x="741" y="251" width="1" height="38" fill="#000"/>
<rect x="736" y="257" width="11" height="23" fill="#000"/>
<rect x="737" y="258" width="9" height="21" fill="#ff0000"/>
<rect x="757" y="237" width="1" height="95" fill="#000"/>
<rect x="752" y="257" width="11" height="56" fill="#000"/>
<rect x="753" y="258" width="9" height="54" fill="#00ff00"/>
<rect x="773" y="281" width="1" height="37" fill="#000"/>
<rect x="768" y="282" width="11" height="31" fill="#000"/>
<rect x="769" y="283" width="9" height="29" fill="#ff0000"/>
<rect x="789" y="306" width="1" height="15" fill="#000"/>
<rect x="784" y="311" width="11" height="2" fill="#000"/>
<rect x="805" y="299" width="1" height="28" fill="#000"/>
<rect x="800" y="311" width="11" height="1" fill="#000"/>
<rect x="821" y="284" width="1" height="31" fill="#000"/>
<rect x="816" y="300" width="11" height="12" fill="#000"/>
<rect x="817" y="301" width="9" height="10" fill="#ff0000"/>
<rect x="837" y="261" width="1" height="43" fill="#000"/>
<rect x="832" y="269" width="11" height="32" fill="#000"/>
<rect x="833" y="270" width="9" height="30" fill="#ff0000"/>
<rect x="853" y="237" width="1" height="52" fill="#000"/>
<rect x="848" y="237" width="11" height="34" fill="#000"/>
<rect x="849" y="238" width="9" height="32" fill="#ff0000"/>
<rect x="869" y="235" width="1" height="33" fill="#000"/>
<rect x="864" y="238" width="11" height="6" fill="#000"/>
<rect x="865" y="239" width="9" height="4" fill="#00ff00"/>
<rect x="885" y="227" width="1" height="23" fill="#000"/>
<rect x="880" y="237" width="11" height="7" fill="#000"/>
<rect x="881" y="238" width="9" height="5" fill="#ff0000"/>
<rect x="901" y="221" width="1" height="35" fill="#000"/>
<rect x="896" y="237" width="11" height="4" fill="#000"/>
<rect x="897" y="238" width="9" height="2" fill="#00ff00"/>
<rect x="917" y="236" width="1" height="28" fill="#000"/>
<rect x="912" y="240" width="11" height="21" fill="#000"/>
<rect x="913" y="241" width="9" height="19" fill="#00ff00"/>
<rect x="933" y="242" width="1" height="28" fill="#000"/>
<rect x="928" y="256" width="11" height="5" fill="#000"/>
<rect x="929" y="257" width="9" height="3" fill="#ff0000"/>
<rect x="949" y="218" width="1" height="49" fill="#000"/>
<rect x="944" y="231" width="11" height="26" fill="#000"/>
<rect x="945" y="232" width="9" height="24" fill="#ff0000"/>
<rect x="965" y="225" width="1" height="33" fill="#000"/>
<rect x="960" y="231" width="11" height="13" fill="#000"/>
<rect x="961" y="232" width="9" height="11" fill="#00ff00"/>
<rect x="981" y="240" width="1" height="11" fill="#000"/>
<rect x="976" y="241" width="11" height="3" fill="#000"/>
<rect x="977" y="242" width="9" height="1" fill="#ff0000"/>
<rect x="997" y="239" width="1" height="23" fill="#000"/>
<rect x="992" y="241" width="11" height="16" fill="#000"/>
<rect x="993" y="242" width="9" height="14" fill="#00ff00"/>
<rect x="1013" y="232" width="1" height="39" fill="#000"/>
<rect x="1008" y="239" width="11" height="18" fill="#000"/>
<rect x="1009" y="240" width="9" height="16" fill="#ff0000"/>
<rect x="1029" y="235" width="1" height="27" fill="#000"/>
<rect x="1024" y="238" width="11" height="22" fill="#000"/>
<rect x="1025" y="239" width="9" height="20" fill="#00ff00"/>
<rect x="1045" y="195" width="1" height="66" fill="#000"/>
<rect x="1040" y="201" width="11" height="59" fill="#000"/>
<rect x="1041" y="202" width="9" height="57" fill="#ff0000"/>
<rect x="1061" y="182" width="1" height="33" fill="#000"/>
<rect x="1056" y="187" width="11" height="15" fill="#000"/>
<rect x="1057" y="188" width="9" height="13" fill="#ff0000"/>
<rect x="1077" y="175" width="1" height="51" fill="#000"/>
<rect x="1072" y="187" width="11" height="3" fill="#000"/>
<rect x="1073" y="188" width="9" height="1" fill="#00ff00"/>
<rect x="1093" y="158" width="1" height="34" fill="#000"/>
<rect x="1088" y="161" width="11" height="29" fill="#000"/>
<rect x="1089" y="162" width="9" height="27" fill="#ff0000"/>
<rect x="1109" y="159" width="1" height="29" fill="#000"/>
<rect x="1104" y="161" width="11" height="22" fill="#000"/>
<rect x="1105" y="162" width="9" height="20" fill="#00ff00"/>
<rect x="1125" y="163" width="1" height="28" fill="#000"/>
<rect x="1120" y="168" width="11" height="15" fill="#000"/>
<rect x="1121" y="169" width="9" height="13" fill="#ff0000"/>
<rect x="1141" y="144" width="1" height="54" fill="#000"/>
<rect x="1136" y="149" width="11" height="20" fill="#000"/>
<rect x="1137" y="150" width="9" height="18" fill="#ff0000"/>
<rect x="1157" y="118" width="1" height="33" fill="#000"/>
<rect x="1152" y="123" width="11" height="27" fill="#000"/>
<rect x="1153" y="124" width="9" height="25" fill="#ff0000"/>
<rect x="1173" y="121" width="1" height="26" fill="#000"/>
<rect x="1168" y="123" width="11" height="12" fill="#000"/>
<rect x="1169" y="124" width="9" height="10" fill="#00ff00"/>
<rect x="1189" y="128" width="1" height="26" fill="#000"/>
<rect x="1184" y="134" width="11" height="15" fill="#000"/>
<rect x="1185" y="135" width="9" height="13" fill="#00ff00"/>
<rect x="1205" y="147" width="1" height="28" fill="#000"/>
<rect x="1200" y="148" width="11" height="24" fill="#000"/>
<rect x="1201" y="149" width="9" height="22" fill="#00ff00"/>
<rect x="1221" y="149" width="1" height="24" fill="#000"/>
<rect x="1216" y="154" width="11" height="18" fill="#000"/>
<rect x="1217" y="155" width="9" height="16" fill="#ff0000"/>
<rect x="1237" y="81" width="1" height="86" fill="#000"/>
<rect x="1232" y="95" width="11" height="59" fill="#000"/>
<rect x="1233" y="96" width="9" height="57" fill="#ff0000"/>
<rect x="1253" y="80" width="1" height="19" fill="#000"/>
<rect x="1248" y="87" width="11" height="9" fill="#000"/>
<rect x="1249" y="88" width="9" height="7" fill="#ff0000"/>
<rect x="1269" y="68" width="1" height="12" fill="#000"/>
<rect x="1264" y="68" width="11" height="10" fill="#000"/>
<rect x="1265" y="69" width="9" height="8" fill="#ff0000"/>
<rect x="1285" y="65" width="1" height="42" fill="#000"/>
<rect x="1280" y="68" width="11" height="23" fill="#000"/>
<rect x="1281" y="69" width="9" height="21" fill="#00ff00"/>
<rect x="1301" y="87" width="1" height="32" fill="#000"/>
<rect x="1296" y="90" width="11" height="11" fill="#000"/>
<rect x="1297" y="91" width="9" height="9" fill="#00ff00"/>
<rect x="1317" y="95" width="1" height="28" fill="#000"/>
<rect x="1312" y="100" width="11" height="15" fill="#000"/>
<rect x="1313" y="101" width="9" height="13" fill="#00ff00"/>
<rect x="1333" y="107" width="1" height="21" fill="#000"/>
<rect x="1328" y="113" width="11" height="2" fill="#000"/>
<rect x="1349" y="102" width="1" height="13" fill="#000"/>
<rect x="1344" y="102" width="11" height="12" fill="#000"/>
<rect x="1345" y="103" width="9" height="10" fill="#ff0000"/>
<rect x="1365" y="100" width="1" height="5" fill="#000"/>
</g>
<rect x="5" y="32" width="1641" height="2" fill="#dc143c"/>
<rect x="5" y="54" width="1641" height="2" fill="#ff0000"/>
<rect x="5" y="91" width="1641" height="2" fill="#ffa500"/>
<rect x="5" y="133" width="1641" height="2" fill="#0000ff"/>
<rect x="5" y="161" width="1641" height="2" fill="#0000ff"/>
<polygon points="7.8,31 15.4,31 11.6,34.9" fill="#000" shape-rendering="geometricPrecision"/>
<text y="36" font-size="10.0" fill="#000" stroke="#000" stroke-width="0.24"><tspan x="20.30" textLength="34.50" lengthAdjust="spacingAndGlyphs">USDJPY</tspan></text>
<text y="36" font-size="10.0" fill="#000" stroke="#000" stroke-width="0.24"><tspan x="58.60" textLength="15.20" lengthAdjust="spacingAndGlyphs">,H4</tspan></text>
<text y="36" font-size="10.0" fill="#000" stroke="#000" stroke-width="0.24"><tspan x="80.60" textLength="33.00" lengthAdjust="spacingAndGlyphs">140.431</tspan></text>
<text y="36" font-size="10.0" fill="#000" stroke="#000" stroke-width="0.24"><tspan x="116.60" textLength="33.00" lengthAdjust="spacingAndGlyphs">140.457</tspan></text>
<text y="36" font-size="10.0" fill="#000" stroke="#000" stroke-width="0.24"><tspan x="152.60" textLength="33.00" lengthAdjust="spacingAndGlyphs">140.405</tspan></text>
<text y="36" font-size="10.0" fill="#000" stroke="#000" stroke-width="0.24"><tspan x="188.60" textLength="33.00" lengthAdjust="spacingAndGlyphs">140.430</tspan></text>
<rect x="17" y="32" width="210" height="2" fill="#dc143c"/>
<rect x="4" y="89" width="6" height="6" fill="#ffa500"/>
<rect x="6" y="91" width="2" height="2" fill="#fff"/>
<rect x="1638" y="89" width="6" height="6" fill="#ffa500"/>
<rect x="1640" y="91" width="2" height="2" fill="#fff"/>
<polygon points="1391.5,25 1402,25 1396.7,30.2" fill="#000" shape-rendering="geometricPrecision"/>
<g shape-rendering="geometricPrecision" fill="#4e9a2e" stroke="none"><path d="M1315.2,48.2 L1316.0,45.2 L1430.2,69.3 L1429.4,72.4 Z"/><path d="M1431.4,62.4 L1446.6,74.4 L1427.2,79.9 Z"/></g>
<rect x="1645" y="41" width="2" height="1" fill="#000"/>
<text y="45" font-size="10.0" fill="#000" stroke="#000" stroke-width="0.24"><tspan x="1650.40" textLength="33.00" lengthAdjust="spacingAndGlyphs">141.230</tspan></text>
<rect x="1645" y="74" width="2" height="1" fill="#000"/>
<text y="78" font-size="10.0" fill="#000" stroke="#000" stroke-width="0.24"><tspan x="1650.40" textLength="33.00" lengthAdjust="spacingAndGlyphs">140.800</tspan></text>
<rect x="1645" y="107" width="2" height="1" fill="#000"/>
<text y="111" font-size="10.0" fill="#000" stroke="#000" stroke-width="0.24"><tspan x="1650.40" textLength="33.00" lengthAdjust="spacingAndGlyphs">140.370</tspan></text>
<rect x="1645" y="140" width="2" height="1" fill="#000"/>
<text y="144" font-size="10.0" fill="#000" stroke="#000" stroke-width="0.24"><tspan x="1650.40" textLength="33.00" lengthAdjust="spacingAndGlyphs">139.930</tspan></text>
<rect x="1645" y="173" width="2" height="1" fill="#000"/>
<text y="177" font-size="10.0" fill="#000" stroke="#000" stroke-width="0.24"><tspan x="1650.40" textLength="33.00" lengthAdjust="spacingAndGlyphs">139.500</tspan></text>
<rect x="1645" y="206" width="2" height="1" fill="#000"/>
<text y="210" font-size="10.0" fill="#000" stroke="#000" stroke-width="0.24"><tspan x="1650.40" textLength="33.00" lengthAdjust="spacingAndGlyphs">139.060</tspan></text>
<rect x="1645" y="239" width="2" height="1" fill="#000"/>
<text y="243" font-size="10.0" fill="#000" stroke="#000" stroke-width="0.24"><tspan x="1650.40" textLength="33.00" lengthAdjust="spacingAndGlyphs">138.630</tspan></text>
<rect x="1645" y="272" width="2" height="1" fill="#000"/>
<text y="276" font-size="10.0" fill="#000" stroke="#000" stroke-width="0.24"><tspan x="1650.40" textLength="33.00" lengthAdjust="spacingAndGlyphs">138.200</tspan></text>
<rect x="1645" y="305" width="2" height="1" fill="#000"/>
<text y="309" font-size="10.0" fill="#000" stroke="#000" stroke-width="0.24"><tspan x="1650.40" textLength="33.00" lengthAdjust="spacingAndGlyphs">137.760</tspan></text>
<rect x="1645" y="338" width="2" height="1" fill="#000"/>
<text y="342" font-size="10.0" fill="#000" stroke="#000" stroke-width="0.24"><tspan x="1650.40" textLength="33.00" lengthAdjust="spacingAndGlyphs">137.330</tspan></text>
<rect x="1645" y="371" width="2" height="1" fill="#000"/>
<text y="375" font-size="10.0" fill="#000" stroke="#000" stroke-width="0.24"><tspan x="1650.40" textLength="33.00" lengthAdjust="spacingAndGlyphs">136.890</tspan></text>
<rect x="1645" y="404" width="2" height="1" fill="#000"/>
<text y="408" font-size="10.0" fill="#000" stroke="#000" stroke-width="0.24"><tspan x="1650.40" textLength="33.00" lengthAdjust="spacingAndGlyphs">136.460</tspan></text>
<rect x="1645" y="437" width="2" height="1" fill="#000"/>
<text y="441" font-size="10.0" fill="#000" stroke="#000" stroke-width="0.24"><tspan x="1650.40" textLength="33.00" lengthAdjust="spacingAndGlyphs">136.030</tspan></text>
<rect x="1645" y="470" width="2" height="1" fill="#000"/>
<text y="474" font-size="10.0" fill="#000" stroke="#000" stroke-width="0.24"><tspan x="1650.40" textLength="33.00" lengthAdjust="spacingAndGlyphs">135.590</tspan></text>
<rect x="1645" y="503" width="2" height="1" fill="#000"/>
<text y="507" font-size="10.0" fill="#000" stroke="#000" stroke-width="0.24"><tspan x="1650.40" textLength="33.00" lengthAdjust="spacingAndGlyphs">135.160</tspan></text>
<rect x="1645" y="536" width="2" height="1" fill="#000"/>
<text y="540" font-size="10.0" fill="#000" stroke="#000" stroke-width="0.24"><tspan x="1650.40" textLength="33.00" lengthAdjust="spacingAndGlyphs">134.720</tspan></text>
<rect x="1645" y="569" width="2" height="1" fill="#000"/>
<text y="573" font-size="10.0" fill="#000" stroke="#000" stroke-width="0.24"><tspan x="1650.40" textLength="33.00" lengthAdjust="spacingAndGlyphs">134.290</tspan></text>
<rect x="1645" y="602" width="2" height="1" fill="#000"/>
<text y="606" font-size="10.0" fill="#000" stroke="#000" stroke-width="0.24"><tspan x="1650.40" textLength="33.00" lengthAdjust="spacingAndGlyphs">133.860</tspan></text>
<rect x="1645" y="635" width="2" height="1" fill="#000"/>
<text y="639" font-size="10.0" fill="#000" stroke="#000" stroke-width="0.24"><tspan x="1650.40" textLength="33.00" lengthAdjust="spacingAndGlyphs">133.420</tspan></text>
<rect x="1646" y="27" width="41" height="11" fill="#dc143c"/>
<text y="36" font-size="10.0" fill="#fff" stroke="#fff" stroke-width="0.24"><tspan x="1650.40" textLength="33.00" lengthAdjust="spacingAndGlyphs">141.337</tspan></text>
<rect x="1646" y="49" width="41" height="11" fill="#ff0000"/>
<text y="58" font-size="10.0" fill="#fff" stroke="#fff" stroke-width="0.24"><tspan x="1650.40" textLength="33.00" lengthAdjust="spacingAndGlyphs">141.045</tspan></text>
<rect x="1646" y="128" width="41" height="11" fill="#0000ff"/>
<text y="137" font-size="10.0" fill="#fff" stroke="#fff" stroke-width="0.24"><tspan x="1650.40" textLength="33.00" lengthAdjust="spacingAndGlyphs">140.015</tspan></text>
<rect x="1646" y="156" width="41" height="11" fill="#0000ff"/>
<text y="165" font-size="10.0" fill="#fff" stroke="#fff" stroke-width="0.24"><tspan x="1650.40" textLength="33.00" lengthAdjust="spacingAndGlyphs">139.647</tspan></text>
<rect x="1646" y="86" width="41" height="11" fill="#ffa500"/>
<text y="95" font-size="10.0" fill="#fff" stroke="#fff" stroke-width="0.24"><tspan x="1650.40" textLength="33.00" lengthAdjust="spacingAndGlyphs">140.561</tspan></text>
<rect x="1646" y="97" width="41" height="11" fill="#000000"/>
<text y="106" font-size="10.0" fill="#fff" stroke="#fff" stroke-width="0.24"><tspan x="1650.40" textLength="33.00" lengthAdjust="spacingAndGlyphs">140.430</tspan></text>
<g id="macd">
<rect x="5" y="720" width="2" height="2" fill="#00ff00"/>
<rect x="20" y="719" width="3" height="1" fill="#00ff00"/>
<rect x="36" y="718" width="3" height="2" fill="#00ff00"/>
<rect x="52" y="717" width="3" height="3" fill="#00ff00"/>
<rect x="68" y="716" width="3" height="4" fill="#00ff00"/>
<rect x="84" y="720" width="3" height="1" fill="#00ff00"/>
<rect x="100" y="720" width="3" height="6" fill="#00ff00"/>
<rect x="116" y="720" width="3" height="12" fill="#00ff00"/>
<rect x="132" y="720" width="3" height="16" fill="#00ff00"/>
<rect x="148" y="720" width="3" height="16" fill="#00ff00"/>
<rect x="164" y="720" width="3" height="18" fill="#00ff00"/>
<rect x="180" y="720" width="3" height="18" fill="#00ff00"/>
<rect x="196" y="720" width="3" height="17" fill="#00ff00"/>
<rect x="212" y="720" width="3" height="17" fill="#00ff00"/>
<rect x="228" y="720" width="3" height="14" fill="#00ff00"/>
<rect x="244" y="720" width="3" height="12" fill="#00ff00"/>
<rect x="260" y="720" width="3" height="9" fill="#00ff00"/>
<rect x="276" y="720" width="3" height="1" fill="#00ff00"/>
<rect x="292" y="713" width="3" height="7" fill="#00ff00"/>
<rect x="308" y="707" width="3" height="13" fill="#00ff00"/>
<rect x="324" y="700" width="3" height="20" fill="#00ff00"/>
<rect x="340" y="696" width="3" height="24" fill="#00ff00"/>
<rect x="356" y="692" width="3" height="28" fill="#00ff00"/>
<rect x="372" y="689" width="3" height="31" fill="#00ff00"/>
<rect x="388" y="688" width="3" height="32" fill="#00ff00"/>
<rect x="404" y="687" width="3" height="33" fill="#00ff00"/>
<rect x="420" y="687" width="3" height="33" fill="#00ff00"/>
<rect x="436" y="689" width="3" height="31" fill="#00ff00"/>
<rect x="452" y="691" width="3" height="29" fill="#00ff00"/>
<rect x="468" y="687" width="3" height="33" fill="#00ff00"/>
<rect x="484" y="686" width="3" height="34" fill="#00ff00"/>
<rect x="500" y="685" width="3" height="35" fill="#00ff00"/>
<rect x="516" y="684" width="3" height="36" fill="#00ff00"/>
<rect x="532" y="680" width="3" height="40" fill="#00ff00"/>
<rect x="548" y="677" width="3" height="43" fill="#00ff00"/>
<rect x="564" y="671" width="3" height="49" fill="#00ff00"/>
<rect x="580" y="667" width="3" height="53" fill="#00ff00"/>
<rect x="596" y="664" width="3" height="56" fill="#00ff00"/>
<rect x="612" y="662" width="3" height="58" fill="#00ff00"/>
<rect x="628" y="660" width="3" height="60" fill="#00ff00"/>
<rect x="644" y="659" width="3" height="61" fill="#00ff00"/>
<rect x="660" y="653" width="3" height="67" fill="#00ff00"/>
<rect x="676" y="649" width="3" height="71" fill="#00ff00"/>
<rect x="692" y="646" width="3" height="74" fill="#00ff00"/>
<rect x="708" y="646" width="3" height="74" fill="#00ff00"/>
<rect x="724" y="650" width="3" height="70" fill="#00ff00"/>
<rect x="740" y="651" width="3" height="69" fill="#00ff00"/>
<rect x="756" y="659" width="3" height="61" fill="#00ff00"/>
<rect x="772" y="662" width="3" height="58" fill="#00ff00"/>
<rect x="788" y="668" width="3" height="52" fill="#00ff00"/>
<rect x="804" y="674" width="3" height="46" fill="#00ff00"/>
<rect x="820" y="677" width="3" height="43" fill="#00ff00"/>
<rect x="836" y="678" width="3" height="42" fill="#00ff00"/>
<rect x="852" y="675" width="3" height="45" fill="#00ff00"/>
<rect x="868" y="675" width="3" height="45" fill="#00ff00"/>
<rect x="884" y="674" width="3" height="46" fill="#00ff00"/>
<rect x="900" y="674" width="3" height="46" fill="#00ff00"/>
<rect x="916" y="677" width="3" height="43" fill="#00ff00"/>
<rect x="932" y="679" width="3" height="41" fill="#00ff00"/>
<rect x="948" y="679" width="3" height="41" fill="#00ff00"/>
<rect x="964" y="680" width="3" height="40" fill="#00ff00"/>
<rect x="980" y="681" width="3" height="39" fill="#00ff00"/>
<rect x="996" y="684" width="3" height="36" fill="#00ff00"/>
<rect x="1012" y="685" width="3" height="35" fill="#00ff00"/>
<rect x="1028" y="689" width="3" height="31" fill="#00ff00"/>
<rect x="1044" y="686" width="3" height="34" fill="#00ff00"/>
<rect x="1060" y="683" width="3" height="37" fill="#00ff00"/>
<rect x="1076" y="680" width="3" height="40" fill="#00ff00"/>
<rect x="1092" y="677" width="3" height="43" fill="#00ff00"/>
<rect x="1108" y="676" width="3" height="44" fill="#00ff00"/>
<rect x="1124" y="675" width="3" height="45" fill="#00ff00"/>
<rect x="1140" y="673" width="3" height="47" fill="#00ff00"/>
<rect x="1156" y="669" width="3" height="51" fill="#00ff00"/>
<rect x="1172" y="667" width="3" height="53" fill="#00ff00"/>
<rect x="1188" y="668" width="3" height="52" fill="#00ff00"/>
<rect x="1204" y="672" width="3" height="48" fill="#00ff00"/>
<rect x="1220" y="673" width="3" height="47" fill="#00ff00"/>
<rect x="1236" y="669" width="3" height="51" fill="#00ff00"/>
<rect x="1252" y="666" width="3" height="54" fill="#00ff00"/>
<rect x="1268" y="662" width="3" height="58" fill="#00ff00"/>
<rect x="1284" y="662" width="3" height="58" fill="#00ff00"/>
<rect x="1300" y="663" width="3" height="57" fill="#00ff00"/>
<rect x="1316" y="667" width="3" height="53" fill="#00ff00"/>
<rect x="1332" y="669" width="3" height="51" fill="#00ff00"/>
<rect x="1348" y="671" width="3" height="49" fill="#00ff00"/>
<rect x="1364" y="673" width="3" height="47" fill="#00ff00"/>
<polyline points="5.5,727.8 21.5,725.8 37.5,724.8 53.5,722.8 69.5,721.8 85.5,720.8 101.5,720.8 117.5,720.8 133.5,723.8 149.5,723.8 165.5,725.8 181.5,727.8 197.5,730.8 213.5,732.9 229.5,734.7 245.5,734.7 261.5,734.7 277.5,732.9 293.5,730.8 309.5,726.8 325.5,723.8 341.5,718.8 357.5,714.8 373.5,708.3 389.5,704.3 405.5,699.3 421.5,695.3 437.5,693.3 453.5,691.3 469.5,690.3 485.5,688.2 501.5,687.6 517.5,687.2 533.5,686.2 549.5,685.6 565.5,683.6 581.5,681.2 597.5,678.2 613.5,675.2 629.5,672.2 645.5,669.1 661.5,666.1 677.5,663.1 693.5,659.1 709.5,656.1 725.5,654.1 741.5,653.5 757.5,653.1 773.5,653.1 789.5,654.1 805.5,656.1 821.5,659.1 837.5,663.1 853.5,666.1 869.5,669.1 885.5,671.2 901.5,673.6 917.5,675.6 933.5,675.6 949.5,676.2 965.5,676.6 981.5,677.6 997.5,678.8 1013.5,679.6 1029.5,681.4 1045.5,682.6 1061.5,682.6 1077.5,682.6 1093.5,682.6 1109.5,682.2 1125.5,681.6 1141.5,680.2 1157.5,678.2 1173.5,676.2 1189.5,674.2 1205.5,673.2 1221.5,672.2 1237.5,671.2 1253.5,670.2 1269.5,669.1 1285.5,668.1 1301.5,667.5 1317.5,667.1 1333.5,667.1 1349.5,667.1 1365.5,667.1" fill="none" stroke="#ff0000" stroke-width="2" stroke-linejoin="round"/>
</g>
<text y="653" font-size="10.0" fill="#000" stroke="#000" stroke-width="0.24"><tspan x="9.30" textLength="66.22" lengthAdjust="spacingAndGlyphs">MACD(12,26,9)</tspan><tspan x="78.49" textLength="27.67" lengthAdjust="spacingAndGlyphs">0.4881</tspan><tspan x="109.13" textLength="27.67" lengthAdjust="spacingAndGlyphs">0.5544</tspan></text>
<rect x="1645" y="642" width="1" height="1" fill="#000"/>
<rect x="1645" y="720" width="1" height="1" fill="#000"/>
<rect x="1645" y="742" width="1" height="1" fill="#000"/>
<text y="651" font-size="10.0" fill="#000" stroke="#000" stroke-width="0.24"><tspan x="1648.20" textLength="28.00" lengthAdjust="spacingAndGlyphs">0.8209</tspan></text>
<text y="724" font-size="10.0" fill="#000" stroke="#000" stroke-width="0.24"><tspan x="1648.20" textLength="18.00" lengthAdjust="spacingAndGlyphs">0.00</tspan></text>
<text y="740" font-size="10.0" fill="#000" stroke="#000" stroke-width="0.24"><tspan x="1648.20" textLength="31.00" lengthAdjust="spacingAndGlyphs">-0.2386</tspan></text>
<g id="rsi">
<path d="M6,764.5 H1643" stroke="#000" stroke-width="1" stroke-dasharray="3,3" fill="none"/>
<path d="M6,791.5 H1643" stroke="#000" stroke-width="1" stroke-dasharray="3,3" fill="none"/>
<path d="M6,822.5 H1643" stroke="#000" stroke-width="1" stroke-dasharray="3,3" fill="none"/>
<polyline points="5.5,788.2 21.5,788.2 37.5,789.2 53.5,788.6 69.5,788.2 85.5,799.9 101.5,801.3 117.5,803.9 133.5,802.3 149.5,795.9 165.5,799.9 181.5,795.3 197.5,794.9 213.5,794.9 229.5,794.9 245.5,789.2 261.5,788.8 277.5,779.2 293.5,778.8 309.5,776.6 325.5,774.6 341.5,778.2 357.5,777.2 373.5,777.8 389.5,777.8 405.5,778.2 421.5,780.2 437.5,783.8 453.5,783.8 469.5,773.6 485.5,778.8 501.5,778.6 517.5,777.8 533.5,772.1 549.5,771.7 565.5,768.1 581.5,767.7 597.5,767.7 613.5,767.7 629.5,766.1 645.5,765.7 661.5,762.1 677.5,761.7 693.5,761.7 709.5,768.7 725.5,774.6 741.5,772.7 757.5,784.6 773.5,781.8 789.5,785.6 805.5,785.6 821.5,785.6 837.5,780.6 853.5,778.2 869.5,778.2 885.5,778.2 901.5,778.2 917.5,782.8 933.5,782.8 949.5,778.8 965.5,780.8 981.5,780.8 997.5,784.8 1013.5,782.8 1029.5,785.6 1045.5,778.2 1061.5,776.8 1077.5,776.8 1093.5,773.6 1109.5,777.8 1125.5,777.8 1141.5,774.6 1157.5,772.7 1173.5,773.8 1189.5,778.6 1205.5,782.8 1221.5,780.2 1237.5,774.2 1253.5,773.6 1269.5,771.7 1285.5,776.6 1301.5,778.2 1317.5,780.6 1333.5,780.6 1349.5,780.2 1365.5,779.8" fill="none" stroke="#1e90ff" stroke-width="2" stroke-linejoin="round"/>
</g>
<text y="758" font-size="10.0" fill="#000" stroke="#000" stroke-width="0.24"><tspan x="9.30" textLength="32.83" lengthAdjust="spacingAndGlyphs">RSI(14)</tspan><tspan x="45.03" textLength="31.87" lengthAdjust="spacingAndGlyphs">62.6868</tspan></text>
<rect x="1645" y="747" width="1" height="1" fill="#000"/>
<text y="756" font-size="10.0" fill="#000" stroke="#000" stroke-width="0.24"><tspan x="1648.20" textLength="15.00" lengthAdjust="spacingAndGlyphs">100</tspan></text>
<text y="768" font-size="10.0" fill="#000" stroke="#000" stroke-width="0.24"><tspan x="1647.60" textLength="10.00" lengthAdjust="spacingAndGlyphs">80</tspan></text>
<text y="795" font-size="10.0" fill="#000" stroke="#000" stroke-width="0.24"><tspan x="1647.60" textLength="10.00" lengthAdjust="spacingAndGlyphs">50</tspan></text>
<text y="826" font-size="10.0" fill="#000" stroke="#000" stroke-width="0.24"><tspan x="1647.60" textLength="10.00" lengthAdjust="spacingAndGlyphs">15</tspan></text>
<text y="833" font-size="10.0" fill="#000" stroke="#000" stroke-width="0.24"><tspan x="1648.20" textLength="5.00" lengthAdjust="spacingAndGlyphs">0</tspan></text>
<rect x="1645" y="835" width="1" height="1" fill="#000"/>
<rect x="5" y="837" width="1" height="3" fill="#000"/>
<text y="849" font-size="10.0" fill="#000" stroke="#000" stroke-width="0.24"><tspan x="4.00" textLength="5.00" lengthAdjust="spacingAndGlyphs">9</tspan><tspan x="12.00" textLength="19.00" lengthAdjust="spacingAndGlyphs">May</tspan><tspan x="34.00" textLength="20.00" lengthAdjust="spacingAndGlyphs">2023</tspan></text>
<rect x="69" y="837" width="1" height="3" fill="#000"/>
<text y="849" font-size="10.0" fill="#000" stroke="#000" stroke-width="0.24"><tspan x="68.00" textLength="10.00" lengthAdjust="spacingAndGlyphs">10</tspan><tspan x="81.00" textLength="19.00" lengthAdjust="spacingAndGlyphs">May</tspan><tspan x="103.00" textLength="23.00" lengthAdjust="spacingAndGlyphs">08:00</tspan></text>
<rect x="133" y="837" width="1" height="3" fill="#000"/>
<text y="849" font-size="10.0" fill="#000" stroke="#000" stroke-width="0.24"><tspan x="132.00" textLength="10.00" lengthAdjust="spacingAndGlyphs">11</tspan><tspan x="145.00" textLength="19.00" lengthAdjust="spacingAndGlyphs">May</tspan><tspan x="167.00" textLength="23.00" lengthAdjust="spacingAndGlyphs">00:00</tspan></text>
<rect x="197" y="837" width="1" height="3" fill="#000"/>
<text y="849" font-size="10.0" fill="#000" stroke="#000" stroke-width="0.24"><tspan x="196.00" textLength="10.00" lengthAdjust="spacingAndGlyphs">11</tspan><tspan x="209.00" textLength="19.00" lengthAdjust="spacingAndGlyphs">May</tspan><tspan x="231.00" textLength="23.00" lengthAdjust="spacingAndGlyphs">16:00</tspan></text>
<rect x="261" y="837" width="1" height="3" fill="#000"/>
<text y="849" font-size="10.0" fill="#000" stroke="#000" stroke-width="0.24"><tspan x="260.00" textLength="10.00" lengthAdjust="spacingAndGlyphs">12</tspan><tspan x="273.00" textLength="19.00" lengthAdjust="spacingAndGlyphs">May</tspan><tspan x="295.00" textLength="23.00" lengthAdjust="spacingAndGlyphs">08:00</tspan></text>
<rect x="325" y="837" width="1" height="3" fill="#000"/>
<text y="849" font-size="10.0" fill="#000" stroke="#000" stroke-width="0.24"><tspan x="324.00" textLength="10.00" lengthAdjust="spacingAndGlyphs">15</tspan><tspan x="337.00" textLength="19.00" lengthAdjust="spacingAndGlyphs">May</tspan><tspan x="359.00" textLength="23.00" lengthAdjust="spacingAndGlyphs">00:00</tspan></text>
<rect x="389" y="837" width="1" height="3" fill="#000"/>
<text y="849" font-size="10.0" fill="#000" stroke="#000" stroke-width="0.24"><tspan x="388.00" textLength="10.00" lengthAdjust="spacingAndGlyphs">15</tspan><tspan x="401.00" textLength="19.00" lengthAdjust="spacingAndGlyphs">May</tspan><tspan x="423.00" textLength="23.00" lengthAdjust="spacingAndGlyphs">16:00</tspan></text>
<rect x="453" y="837" width="1" height="3" fill="#000"/>
<text y="849" font-size="10.0" fill="#000" stroke="#000" stroke-width="0.24"><tspan x="452.00" textLength="10.00" lengthAdjust="spacingAndGlyphs">16</tspan><tspan x="465.00" textLength="19.00" lengthAdjust="spacingAndGlyphs">May</tspan><tspan x="487.00" textLength="23.00" lengthAdjust="spacingAndGlyphs">08:00</tspan></text>
<rect x="517" y="837" width="1" height="3" fill="#000"/>
<text y="849" font-size="10.0" fill="#000" stroke="#000" stroke-width="0.24"><tspan x="516.00" textLength="10.00" lengthAdjust="spacingAndGlyphs">17</tspan><tspan x="529.00" textLength="19.00" lengthAdjust="spacingAndGlyphs">May</tspan><tspan x="551.00" textLength="23.00" lengthAdjust="spacingAndGlyphs">00:00</tspan></text>
<rect x="581" y="837" width="1" height="3" fill="#000"/>
<text y="849" font-size="10.0" fill="#000" stroke="#000" stroke-width="0.24"><tspan x="580.00" textLength="10.00" lengthAdjust="spacingAndGlyphs">17</tspan><tspan x="593.00" textLength="19.00" lengthAdjust="spacingAndGlyphs">May</tspan><tspan x="615.00" textLength="23.00" lengthAdjust="spacingAndGlyphs">16:00</tspan></text>
<rect x="645" y="837" width="1" height="3" fill="#000"/>
<text y="849" font-size="10.0" fill="#000" stroke="#000" stroke-width="0.24"><tspan x="644.00" textLength="10.00" lengthAdjust="spacingAndGlyphs">18</tspan><tspan x="657.00" textLength="19.00" lengthAdjust="spacingAndGlyphs">May</tspan><tspan x="679.00" textLength="23.00" lengthAdjust="spacingAndGlyphs">08:00</tspan></text>
<rect x="709" y="837" width="1" height="3" fill="#000"/>
<text y="849" font-size="10.0" fill="#000" stroke="#000" stroke-width="0.24"><tspan x="708.00" textLength="10.00" lengthAdjust="spacingAndGlyphs">19</tspan><tspan x="721.00" textLength="19.00" lengthAdjust="spacingAndGlyphs">May</tspan><tspan x="743.00" textLength="23.00" lengthAdjust="spacingAndGlyphs">00:00</tspan></text>
<rect x="773" y="837" width="1" height="3" fill="#000"/>
<text y="849" font-size="10.0" fill="#000" stroke="#000" stroke-width="0.24"><tspan x="772.00" textLength="10.00" lengthAdjust="spacingAndGlyphs">19</tspan><tspan x="785.00" textLength="19.00" lengthAdjust="spacingAndGlyphs">May</tspan><tspan x="807.00" textLength="23.00" lengthAdjust="spacingAndGlyphs">16:00</tspan></text>
<rect x="837" y="837" width="1" height="3" fill="#000"/>
<text y="849" font-size="10.0" fill="#000" stroke="#000" stroke-width="0.24"><tspan x="836.00" textLength="10.00" lengthAdjust="spacingAndGlyphs">22</tspan><tspan x="849.00" textLength="19.00" lengthAdjust="spacingAndGlyphs">May</tspan><tspan x="871.00" textLength="23.00" lengthAdjust="spacingAndGlyphs">08:00</tspan></text>
<rect x="901" y="837" width="1" height="3" fill="#000"/>
<text y="849" font-size="10.0" fill="#000" stroke="#000" stroke-width="0.24"><tspan x="900.00" textLength="10.00" lengthAdjust="spacingAndGlyphs">23</tspan><tspan x="913.00" textLength="19.00" lengthAdjust="spacingAndGlyphs">May</tspan><tspan x="935.00" textLength="23.00" lengthAdjust="spacingAndGlyphs">00:00</tspan></text>
<rect x="965" y="837" width="1" height="3" fill="#000"/>
<text y="849" font-size="10.0" fill="#000" stroke="#000" stroke-width="0.24"><tspan x="964.00" textLength="10.00" lengthAdjust="spacingAndGlyphs">23</tspan><tspan x="977.00" textLength="19.00" lengthAdjust="spacingAndGlyphs">May</tspan><tspan x="999.00" textLength="23.00" lengthAdjust="spacingAndGlyphs">16:00</tspan></text>
<rect x="1029" y="837" width="1" height="3" fill="#000"/>
<text y="849" font-size="10.0" fill="#000" stroke="#000" stroke-width="0.24"><tspan x="1028.00" textLength="10.00" lengthAdjust="spacingAndGlyphs">24</tspan><tspan x="1041.00" textLength="19.00" lengthAdjust="spacingAndGlyphs">May</tspan><tspan x="1063.00" textLength="23.00" lengthAdjust="spacingAndGlyphs">08:00</tspan></text>
<rect x="1093" y="837" width="1" height="3" fill="#000"/>
<text y="849" font-size="10.0" fill="#000" stroke="#000" stroke-width="0.24"><tspan x="1092.00" textLength="10.00" lengthAdjust="spacingAndGlyphs">25</tspan><tspan x="1105.00" textLength="19.00" lengthAdjust="spacingAndGlyphs">May</tspan><tspan x="1127.00" textLength="23.00" lengthAdjust="spacingAndGlyphs">00:00</tspan></text>
<rect x="1157" y="837" width="1" height="3" fill="#000"/>
<text y="849" font-size="10.0" fill="#000" stroke="#000" stroke-width="0.24"><tspan x="1156.00" textLength="10.00" lengthAdjust="spacingAndGlyphs">25</tspan><tspan x="1169.00" textLength="19.00" lengthAdjust="spacingAndGlyphs">May</tspan><tspan x="1191.00" textLength="23.00" lengthAdjust="spacingAndGlyphs">16:00</tspan></text>
<rect x="1221" y="837" width="1" height="3" fill="#000"/>
<text y="849" font-size="10.0" fill="#000" stroke="#000" stroke-width="0.24"><tspan x="1220.00" textLength="10.00" lengthAdjust="spacingAndGlyphs">26</tspan><tspan x="1233.00" textLength="19.00" lengthAdjust="spacingAndGlyphs">May</tspan><tspan x="1255.00" textLength="23.00" lengthAdjust="spacingAndGlyphs">08:00</tspan></text>
<rect x="1285" y="837" width="1" height="3" fill="#000"/>
<text y="849" font-size="10.0" fill="#000" stroke="#000" stroke-width="0.24"><tspan x="1284.00" textLength="10.00" lengthAdjust="spacingAndGlyphs">29</tspan><tspan x="1297.00" textLength="19.00" lengthAdjust="spacingAndGlyphs">May</tspan><tspan x="1319.00" textLength="23.00" lengthAdjust="spacingAndGlyphs">00:00</tspan></text>
<rect x="1349" y="837" width="1" height="3" fill="#000"/>
<text y="849" font-size="10.0" fill="#000" stroke="#000" stroke-width="0.24"><tspan x="1348.00" textLength="10.00" lengthAdjust="spacingAndGlyphs">29</tspan><tspan x="1361.00" textLength="19.00" lengthAdjust="spacingAndGlyphs">May</tspan><tspan x="1383.00" textLength="23.00" lengthAdjust="spacingAndGlyphs">16:00</tspan></text>
</svg>
</body></html>
